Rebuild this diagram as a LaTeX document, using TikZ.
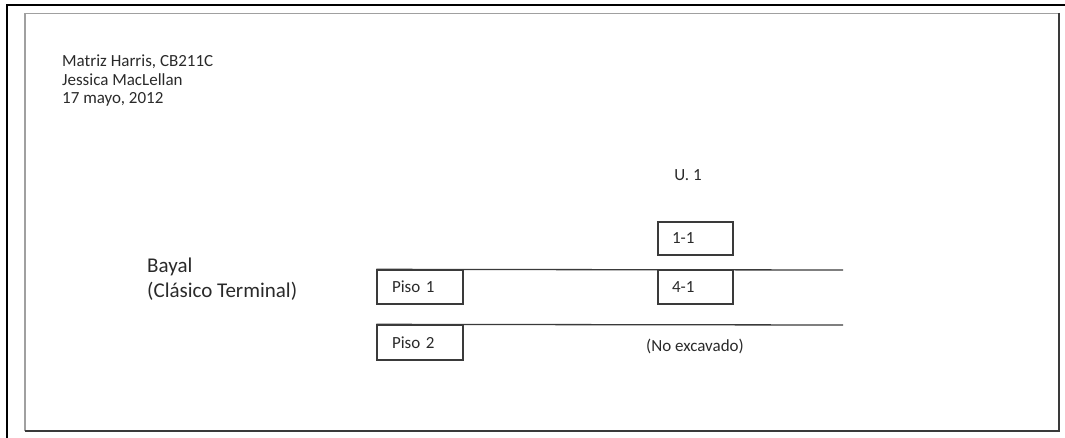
\documentclass[tikz,border=0pt]{standalone}
\usepackage{fontspec}
\setmainfont{Carlito}
\definecolor{ink}{HTML}{2A2A2A}
\definecolor{framegray}{HTML}{A0A0A0}
\definecolor{framedark}{HTML}{3A3A3A}
\tikzset{
  lbl/.style={font=\fontsize{17}{18.5}\selectfont, text=ink, inner sep=0pt},
  biglbl/.style={font=\fontsize{21}{25}\selectfont, text=ink, inner sep=0pt},
  unitbox/.style={draw=framedark, line width=1.3pt, minimum height=33pt, inner ysep=0pt, align=left,
     font=\fontsize{17}{20}\selectfont, text=ink},
  pisobox/.style={unitbox, inner xsep=15pt, text width=56pt},
  ubox/.style={unitbox, inner xsep=14pt, text width=47pt},
  layerline/.style={draw=framedark, line width=1.3pt},
}
\begin{document}
\begin{tikzpicture}[x=1pt,y=-1pt]
\useasboundingbox (0,0) rectangle (1065,438);
% outer black lines
\draw[line width=2pt, black] (6,5.5) -- (1065,5.5);
\draw[line width=2pt, black] (7,5) -- (7,438);
% inner frame
\draw[line width=1.2pt, framegray] (25,431) -- (25,13.5) -- (1059,13.5);
\draw[line width=1.5pt, framedark] (1059,13) -- (1059,431) -- (24.5,431);
% header (base anchor = last line)
\node[lbl, anchor=base west, align=left] (hdr) at (62,104) {Matriz Harris, CB211C\\Jessica MacLellan\\17 mayo, 2012};
% unit label
\node[lbl] (u1) at (688,175) {U. 1};
% period label (base anchor = last line)
\node[biglbl, anchor=base west, align=left] (bayal) at (147,298) {Bayal\\(Clásico Terminal)};
% boxes
\node[ubox] (b11) at (695.5,238.5) {1-1};
\node[pisobox, minimum height=34pt] (p1) at (420,287) {Piso 1};
\node[ubox, minimum height=34pt] (b41) at (695.5,287) {4-1};
\node[pisobox, minimum height=35pt] (p2) at (420,342.5) {Piso 2};
% layer lines
\coordinate (l1end) at (843,270);
\coordinate (l2end) at (843,325);
\draw[layerline] (p1.north west) -- (l1end);
\draw[layerline] (p2.north west) -- (l2end);
% not excavated
\node[lbl] (nx) at (695,346) {(No excavado)};
\end{tikzpicture}
\end{document}
